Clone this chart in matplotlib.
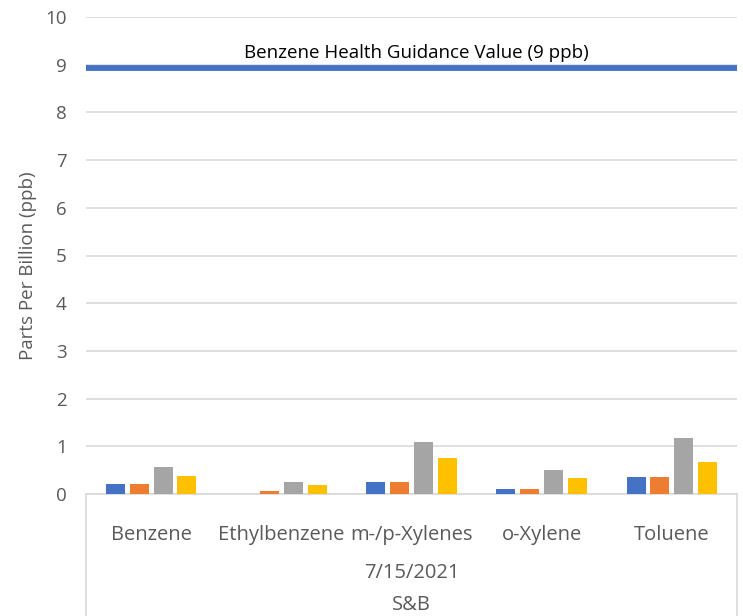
import matplotlib.pyplot as plt
from matplotlib.transforms import blended_transform_factory
from matplotlib.lines import Line2D

# 数据
compounds = ["Benzene", "Ethylbenzene", "m-/p-Xylenes", "o-Xylene", "Toluene"]
sample_1 = [0.21, 0.0, 0.26, 0.10, 0.35]
sample_2 = [0.21, 0.07, 0.26, 0.11, 0.36]
sample_3 = [0.56, 0.26, 1.09, 0.50, 1.17]
sample_4 = [0.37, 0.19, 0.76, 0.33, 0.68]
sample_date = "7/15/2021"
site = "S&B"
guidance_value = 8.93
guidance_label = "Benzene Health Guidance Value (9 ppb)"

colors = ["#4472C4", "#ED7D31", "#A5A5A5", "#FFC000"]
grid_color = "#D9D9D9"
text_color = "#595959"

plt.rcParams['font.family'] = ['Open Sans', 'DejaVu Sans']

fig = plt.figure(figsize=(7.43, 6.16), dpi=100)
ax = fig.add_axes([86 / 743, 122 / 616, 651 / 743, 477 / 616])

# 柱状图
series = [sample_1, sample_2, sample_3, sample_4]
step = 0.183
width = 0.146
x = list(range(len(compounds)))
for i, (vals, c) in enumerate(zip(series, colors)):
    offs = (i - 1.5) * step
    ax.bar([xi + offs for xi in x], vals, width=width, color=c, zorder=3)

# 健康指导值
ax.axhline(guidance_value, color="#4472C4", linewidth=4.2, zorder=4)
ax.text(2.04, 9.15, guidance_label, ha='center', va='baseline',
        fontsize=13.5, color='black')

# 坐标轴
ax.set_xlim(-0.5, len(compounds) - 0.5)
ax.set_ylim(0, 10)
ax.set_yticks(range(0, 11))
ax.grid(axis='y', color=grid_color, linewidth=1.2, zorder=0)
ax.tick_params(axis='y', length=0, pad=14, labelsize=13.5, labelcolor=text_color)
ax.tick_params(axis='x', length=0)
ax.set_xticks([])
for s in ['top', 'right', 'left']:
    ax.spines[s].set_visible(False)
ax.spines['bottom'].set_color(grid_color)
ax.spines['bottom'].set_linewidth(1.2)
ax.set_ylabel("Parts Per Billion (ppb)", fontsize=13.5, color=text_color)
ax.yaxis.set_label_coords(-0.076, 0.478)

# 多级分类标签
tr = blended_transform_factory(ax.transData, fig.transFigure)
for xi, name in zip(x, compounds):
    ax.text(xi, 1 - 535 / 616, name, transform=tr, ha='center', va='center',
            fontsize=14.5, color=text_color)
ax.text(2, 1 - 573 / 616, sample_date, transform=tr, ha='center', va='center',
        fontsize=14.5, color=text_color)
ax.text(2, 1 - 605 / 616, site, transform=tr, ha='center', va='center',
        fontsize=14.5, color=text_color)

# 分类框线
y0 = 122 / 616
for xf in [86 / 743, 737 / 743]:
    fig.add_artist(Line2D([xf, xf], [0, y0], color=grid_color, linewidth=1.2))

plt.savefig("out.png", dpi=100)
